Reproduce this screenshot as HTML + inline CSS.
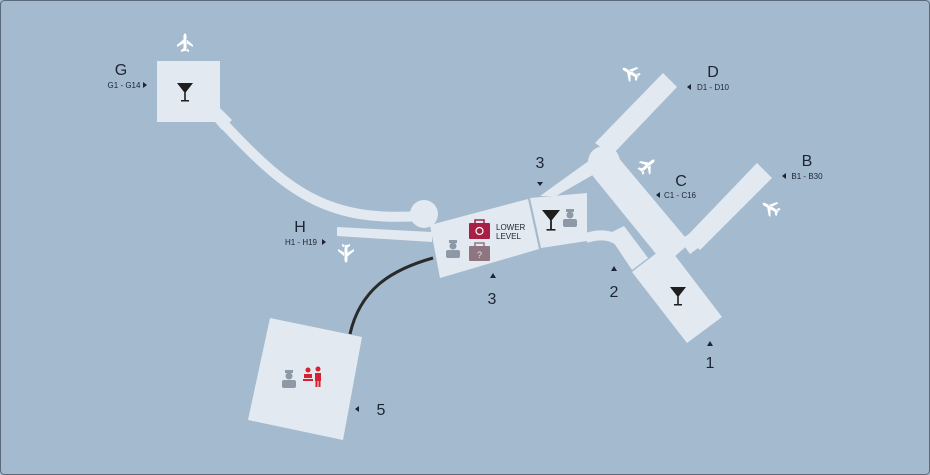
<!DOCTYPE html>
<html><head><style>
html,body{margin:0;padding:0;background:#a4bbcf;}
svg{display:block;}
text{font-family:"Liberation Sans",sans-serif;fill:#1d2433;}
</style></head><body>
<svg width="930" height="475" viewBox="0 0 930 475" xmlns="http://www.w3.org/2000/svg">
<rect x="0.5" y="0.5" width="929" height="474" rx="4" fill="#a4bbcf" stroke="#5a6a7a" stroke-width="1"/>
<g fill="#e3e9f0">
 <!-- G -->
 <rect x="157" y="61" width="63" height="61"/>
 <polygon points="210,116 220,108 232,120 222,130"/>
 <path d="M224,124 C290,195 330,222 420,216" fill="none" stroke="#e3e9f0" stroke-width="10"/>
 <circle cx="424" cy="214" r="14"/>
 <!-- H -->
 <polygon points="337,227 432,232 432,242 337,236"/>
 <!-- terminal 3 -->
 <polygon points="430,225 528,199 539,249 440,278"/>
 <polygon points="530,198 587,193 587,241 541,248"/>
 <polygon points="540,196 590,160 598,172 556,196"/>
 <!-- hub & C -->
 <circle cx="604" cy="162" r="16"/>
 <polygon points="588,170 612,150 690,243 665,265"/>
 <!-- D -->
 <polygon points="663,73 677,87 612,155 595,143"/>
 <!-- B -->
 <polygon points="757,163 772,178 700,250 686,237"/>
 <polygon points="680,240 692,232 702,245 690,254"/>
 <!-- connector 2 -->
 <path d="M586,238 C605,232 618,236 630,252" fill="none" stroke="#e3e9f0" stroke-width="10"/>
 <polygon points="608,234 624,226 648,258 632,270"/>
 <!-- lounge 1 -->
 <polygon points="632,272 667,245 722,317 687,343"/>
 <!-- area 5 -->
 <polygon points="270,318 362,337 343,440 248,420"/>
</g>
<path d="M350,334 C360,290 390,270 433,258" fill="none" stroke="#2a2a2a" stroke-width="3"/>

<!-- martini glasses -->
<g fill="#1e1e1e">
 <g transform="translate(185,90)"><polygon points="-8,-7 8,-7 1,2 -1,2"/><rect x="-0.8" y="1" width="1.6" height="9"/><rect x="-4" y="10" width="8" height="1.5"/></g>
 <g transform="translate(551,218)"><polygon points="-9,-8 9,-8 1,2 -1,2"/><rect x="-0.9" y="1" width="1.8" height="10"/><rect x="-4.5" y="11" width="9" height="1.6"/></g>
 <g transform="translate(678,294)"><polygon points="-8,-7 8,-7 1,2 -1,2"/><rect x="-0.8" y="1" width="1.6" height="9"/><rect x="-4" y="10" width="8" height="1.5"/></g>
</g>
<!-- person icons -->
<g fill="#8d99a7">
 <g transform="translate(453,240)"><rect x="-4" y="0" width="8" height="3"/><circle cx="0" cy="6" r="3.5"/><rect x="-7" y="10" width="14" height="8" rx="2"/></g>
 <g transform="translate(570,209)"><rect x="-4" y="0" width="8" height="3"/><circle cx="0" cy="6" r="3.5"/><rect x="-7" y="10" width="14" height="8" rx="2"/></g>
 <g transform="translate(289,370)"><rect x="-4" y="0" width="8" height="3"/><circle cx="0" cy="6" r="3.5"/><rect x="-7" y="10" width="14" height="8" rx="2"/></g>
</g>
<!-- red icons area 5 -->
<g fill="#d8202f">
 <circle cx="308" cy="370" r="2.5"/><rect x="304" y="374" width="8" height="4"/><rect x="303" y="379" width="10" height="2"/>
 <circle cx="318" cy="369" r="2.5"/><rect x="315" y="373" width="6" height="8"/><rect x="315.5" y="380" width="2" height="7"/><rect x="318.5" y="380" width="2" height="7"/>
</g>
<!-- bags -->
<rect x="469" y="223" width="21" height="16" rx="1" fill="#a81f45"/>
<rect x="475" y="220" width="9" height="4" fill="none" stroke="#a81f45" stroke-width="1.5"/>
<circle cx="479.5" cy="231" r="3.5" fill="none" stroke="#fff" stroke-width="1.2"/>
<rect x="469" y="246" width="21" height="15" rx="1" fill="#8f7580"/>
<rect x="475" y="243" width="9" height="4" fill="none" stroke="#8f7580" stroke-width="1.5"/>
<text x="479.5" y="258" font-size="9" text-anchor="middle" style="fill:#e3e9f0">?</text>
<text x="496" y="230" font-size="8">LOWER</text>
<text x="496" y="239" font-size="8">LEVEL</text>

<!-- planes -->
<g fill="#fff" font-size="22">
 <text x="185" y="52" text-anchor="middle" style="fill:#fff">✈</text>
</g>
<g fill="#fff">
 <g transform="translate(185,43) rotate(-90)"><path d="M-8,-1 L8,-1 L10,0 L8,1 L-8,1Z M0,-1 L-4,-8 L-2,-8 L4,-1Z M0,1 L-4,8 L-2,8 L4,1Z M-8,-1 L-9,-4 L-7,-4 L-5,-1Z M-8,1 L-9,4 L-7,4 L-5,1Z"/></g>
 <g transform="translate(631,73) rotate(-150)"><path d="M-8,-1.5 L8,-1.5 L10,0 L8,1.5 L-8,1.5Z M0,-1 L-4,-8 L-2,-8 L4,-1Z M0,1 L-4,8 L-2,8 L4,1Z M-8,-1 L-9,-4 L-7,-4 L-5,-1Z M-8,1 L-9,4 L-7,4 L-5,1Z"/></g>
 <g transform="translate(647,166) rotate(-40)"><path d="M-8,-1.5 L8,-1.5 L10,0 L8,1.5 L-8,1.5Z M0,-1 L-4,-8 L-2,-8 L4,-1Z M0,1 L-4,8 L-2,8 L4,1Z M-8,-1 L-9,-4 L-7,-4 L-5,-1Z M-8,1 L-9,4 L-7,4 L-5,1Z"/></g>
 <g transform="translate(771,208) rotate(-150)"><path d="M-8,-1.5 L8,-1.5 L10,0 L8,1.5 L-8,1.5Z M0,-1 L-4,-8 L-2,-8 L4,-1Z M0,1 L-4,8 L-2,8 L4,1Z M-8,-1 L-9,-4 L-7,-4 L-5,-1Z M-8,1 L-9,4 L-7,4 L-5,1Z"/></g>
 <g transform="translate(346,253) rotate(90)"><path d="M-8,-1.5 L8,-1.5 L10,0 L8,1.5 L-8,1.5Z M0,-1 L-4,-8 L-2,-8 L4,-1Z M0,1 L-4,8 L-2,8 L4,1Z M-8,-1 L-9,-4 L-7,-4 L-5,-1Z M-8,1 L-9,4 L-7,4 L-5,1Z"/></g>
</g>
<rect x="170" y="30" width="30" height="25" fill="#a4bbcf"/>
<g transform="translate(185,43) rotate(-90)" fill="#fff"><path d="M-8,-1.5 L8,-1.5 L10,0 L8,1.5 L-8,1.5Z M0,-1 L-4,-8 L-2,-8 L4,-1Z M0,1 L-4,8 L-2,8 L4,1Z M-8,-1 L-9,-4 L-7,-4 L-5,-1Z M-8,1 L-9,4 L-7,4 L-5,1Z"/></g>

<!-- labels -->
<text x="121" y="75" font-size="16" text-anchor="middle">G</text>
<text x="124" y="88" font-size="8" text-anchor="middle">G1 - G14</text>
<polygon points="143,82 147,85 143,88" fill="#1d2433"/>
<text x="300" y="232" font-size="16" text-anchor="middle">H</text>
<text x="301" y="245" font-size="8" text-anchor="middle">H1 - H19</text>
<polygon points="322,239 326,242 322,245" fill="#1d2433"/>
<text x="713" y="77" font-size="16" text-anchor="middle">D</text>
<text x="713" y="90" font-size="8" text-anchor="middle">D1 - D10</text>
<polygon points="691,84 687,87 691,90" fill="#1d2433"/>
<text x="681" y="186" font-size="16" text-anchor="middle">C</text>
<text x="680" y="198" font-size="8" text-anchor="middle">C1 - C16</text>
<polygon points="660,192 656,195 660,198" fill="#1d2433"/>
<text x="807" y="166" font-size="16" text-anchor="middle">B</text>
<text x="807" y="179" font-size="8" text-anchor="middle">B1 - B30</text>
<polygon points="786,173 782,176 786,179" fill="#1d2433"/>
<text x="540" y="168" font-size="16" text-anchor="middle">3</text>
<polygon points="537,182 543,182 540,186" fill="#1d2433"/>
<polygon points="490,278 496,278 493,273" fill="#1d2433"/>
<text x="492" y="304" font-size="16" text-anchor="middle">3</text>
<polygon points="611,271 617,271 614,266" fill="#1d2433"/>
<text x="614" y="297" font-size="16" text-anchor="middle">2</text>
<polygon points="707,346 713,346 710,341" fill="#1d2433"/>
<text x="710" y="368" font-size="16" text-anchor="middle">1</text>
<polygon points="359,406 355,409 359,412" fill="#1d2433"/>
<text x="381" y="415" font-size="16" text-anchor="middle">5</text>
</svg>
</body></html>
